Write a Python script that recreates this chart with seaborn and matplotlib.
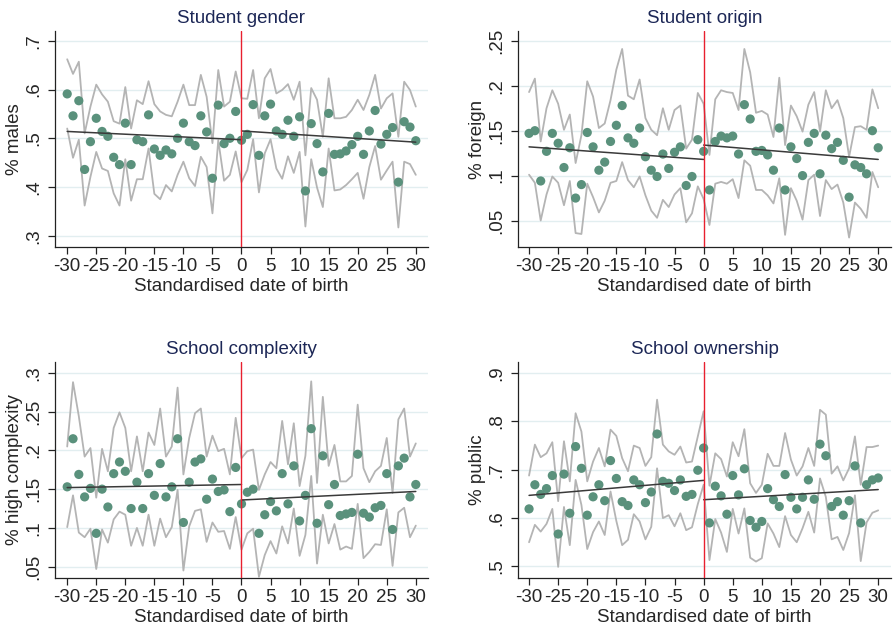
import matplotlib
matplotlib.use("Agg")
import matplotlib.pyplot as plt
import numpy as np
import pandas as pd
import seaborn as sns

sns.set_theme(style="white")
plt.rcParams["font.family"] = ["Liberation Sans", "DejaVu Sans"]

# ── data ──
days = list(range(-30, 31))

gender_mean = [0.591, 0.546, 0.577, 0.436, 0.493, 0.541, 0.514, 0.504, 0.461, 0.446,
               0.531, 0.446, 0.497, 0.493, 0.548, 0.478, 0.465, 0.476, 0.468, 0.500,
               0.531, 0.493, 0.485, 0.546, 0.513, 0.418, 0.568, 0.489, 0.500, 0.555,
               0.496, 0.508, 0.569, 0.465, 0.546, 0.570, 0.515, 0.508, 0.537, 0.504,
               0.544, 0.392, 0.530, 0.489, 0.431, 0.551, 0.467, 0.468, 0.474, 0.487,
               0.504, 0.467, 0.515, 0.557, 0.488, 0.508, 0.522, 0.410, 0.534, 0.523, 0.495]
gender_ci = [0.071, 0.086, 0.080, 0.074, 0.072, 0.069, 0.076, 0.071, 0.074, 0.084,
             0.074, 0.074, 0.081, 0.077, 0.069, 0.092, 0.090, 0.072, 0.077, 0.075,
             0.079, 0.075, 0.083, 0.084, 0.072, 0.072, 0.072, 0.076, 0.075, 0.082,
             0.086, 0.073, 0.071, 0.076, 0.077, 0.072, 0.077, 0.091, 0.074, 0.075,
             0.072, 0.073, 0.073, 0.090, 0.072, 0.072, 0.074, 0.073, 0.070, 0.071,
             0.075, 0.091, 0.074, 0.073, 0.073, 0.074, 0.070, 0.093, 0.082, 0.076, 0.070]
gender_fit = [0.514, 0.497, 0.515, 0.492]

origin_mean = [0.147, 0.150, 0.094, 0.127, 0.147, 0.136, 0.109, 0.131, 0.075, 0.090,
               0.148, 0.132, 0.106, 0.115, 0.138, 0.156, 0.178, 0.142, 0.136, 0.153,
               0.121, 0.106, 0.099, 0.124, 0.108, 0.126, 0.132, 0.089, 0.099, 0.140,
               0.127, 0.084, 0.138, 0.144, 0.142, 0.144, 0.124, 0.179, 0.163, 0.127,
               0.128, 0.123, 0.106, 0.153, 0.084, 0.132, 0.119, 0.100, 0.137, 0.147,
               0.102, 0.145, 0.130, 0.137, 0.117, 0.076, 0.112, 0.109, 0.102, 0.150, 0.131]
origin_ci = [0.046, 0.058, 0.044, 0.048, 0.048, 0.044, 0.042, 0.037, 0.039, 0.055,
             0.057, 0.056, 0.047, 0.043, 0.046, 0.062, 0.063, 0.047, 0.049, 0.054,
             0.043, 0.045, 0.046, 0.051, 0.043, 0.047, 0.046, 0.041, 0.041, 0.052,
             0.053, 0.039, 0.047, 0.051, 0.051, 0.048, 0.049, 0.062, 0.052, 0.043,
             0.044, 0.045, 0.037, 0.056, 0.050, 0.046, 0.047, 0.049, 0.042, 0.046,
             0.047, 0.050, 0.045, 0.047, 0.047, 0.045, 0.042, 0.046, 0.049, 0.046, 0.044]
origin_fit = [0.132, 0.118, 0.134, 0.118]

complexity_mean = [0.153, 0.215, 0.169, 0.140, 0.151, 0.093, 0.150, 0.127, 0.170, 0.185,
                   0.173, 0.125, 0.159, 0.125, 0.170, 0.142, 0.183, 0.140, 0.153, 0.215,
                   0.107, 0.159, 0.185, 0.189, 0.137, 0.163, 0.147, 0.149, 0.121, 0.178,
                   0.131, 0.146, 0.150, 0.093, 0.117, 0.134, 0.122, 0.170, 0.131, 0.180,
                   0.109, 0.142, 0.228, 0.106, 0.193, 0.130, 0.156, 0.116, 0.118, 0.120,
                   0.195, 0.119, 0.114, 0.126, 0.129, 0.170, 0.098, 0.180, 0.190, 0.140, 0.156]
complexity_ci = [0.052, 0.073, 0.075, 0.052, 0.052, 0.046, 0.052, 0.046, 0.059, 0.064,
                 0.056, 0.048, 0.059, 0.048, 0.053, 0.065, 0.071, 0.052, 0.052, 0.066,
                 0.062, 0.057, 0.063, 0.065, 0.055, 0.056, 0.052, 0.053, 0.048, 0.064,
                 0.059, 0.053, 0.051, 0.056, 0.052, 0.051, 0.055, 0.068, 0.051, 0.055,
                 0.045, 0.051, 0.061, 0.052, 0.076, 0.050, 0.051, 0.044, 0.042, 0.047,
                 0.064, 0.058, 0.045, 0.047, 0.051, 0.046, 0.047, 0.060, 0.064, 0.052, 0.053]
complexity_fit = [0.152, 0.156, 0.136, 0.147]

ownership_mean = [0.619, 0.669, 0.649, 0.661, 0.688, 0.567, 0.691, 0.610, 0.748, 0.703,
                  0.606, 0.644, 0.669, 0.636, 0.719, 0.682, 0.634, 0.626, 0.679, 0.669,
                  0.632, 0.654, 0.774, 0.676, 0.672, 0.657, 0.679, 0.645, 0.649, 0.699,
                  0.745, 0.590, 0.666, 0.646, 0.608, 0.688, 0.648, 0.702, 0.595, 0.581,
                  0.593, 0.661, 0.638, 0.624, 0.690, 0.643, 0.619, 0.643, 0.679, 0.639,
                  0.753, 0.729, 0.624, 0.634, 0.606, 0.636, 0.708, 0.590, 0.669, 0.679, 0.683]
ownership_ci = [0.069, 0.083, 0.077, 0.073, 0.069, 0.068, 0.068, 0.066, 0.069, 0.076,
                0.070, 0.073, 0.076, 0.071, 0.064, 0.088, 0.090, 0.071, 0.071, 0.076,
                0.076, 0.072, 0.071, 0.076, 0.066, 0.074, 0.069, 0.070, 0.068, 0.070,
                0.076, 0.077, 0.068, 0.076, 0.078, 0.069, 0.080, 0.082, 0.077, 0.071,
                0.076, 0.072, 0.070, 0.084, 0.086, 0.078, 0.069, 0.064, 0.066, 0.069,
                0.071, 0.085, 0.068, 0.073, 0.072, 0.067, 0.061, 0.079, 0.078, 0.068, 0.067]
ownership_fit = [0.647, 0.678, 0.638, 0.659]

fit_days = [-30, 0, 0, 30]
fit_side = ["left", "left", "right", "right"]

titles = ["Student gender", "Student origin", "School complexity", "School ownership"]
ylabels = ["% males", "% foreign", "% high complexity", "% public"]
yticks = [[0.3, 0.4, 0.5, 0.6, 0.7],
          [0.05, 0.1, 0.15, 0.2, 0.25],
          [0.05, 0.1, 0.15, 0.2, 0.25, 0.3],
          [0.5, 0.6, 0.7, 0.8, 0.9]]
ytick_labels = [[".3", ".4", ".5", ".6", ".7"],
                [".05", ".1", ".15", ".2", ".25"],
                [".05", ".1", ".15", ".2", ".25", ".3"],
                [".5", ".6", ".7", ".8", ".9"]]
xticks = list(range(-30, 31, 5))

# ── style ──
DOT = "#5a917c"
CI_GREY = "#b4b4b4"
FIT = "#3a3a3a"
CUTOFF = "#e8202f"
GRID = "#e2eef0"
TITLE = "#1c2756"

# panel boxes in pixels (left, top, right, bottom) and axis limits
W, H = 895, 632
boxes = [(55, 31, 428, 247), (518, 31, 891, 247), (55, 362, 428, 578), (518, 362, 891, 578)]
ylims = [(0.277, 0.72), (0.0205, 0.261), (0.0354, 0.314), (0.476, 0.923)]
xlims = [(-32.1, 32.1), (-31.9, 32.2), (-32.1, 32.1), (-31.9, 32.2)]

panels = [
    (gender_mean, gender_ci, gender_fit),
    (origin_mean, origin_ci, origin_fit),
    (complexity_mean, complexity_ci, complexity_fit),
    (ownership_mean, ownership_ci, ownership_fit),
]

fig = plt.figure(figsize=(W / 100, H / 100), dpi=100)

for i, (mean, ci, fit) in enumerate(panels):
    l, t, r, b = boxes[i]
    ax = fig.add_axes([l / W, 1 - b / H, (r - l) / W, (b - t) / H])

    df = pd.DataFrame({"day": days, "mean": mean, "ci": ci})
    df["upper"] = df["mean"] + df["ci"]
    df["lower"] = df["mean"] - df["ci"]
    fit_df = pd.DataFrame({"day": fit_days, "fit": fit, "side": fit_side})

    for yv in yticks[i]:
        ax.axhline(yv, color=GRID, lw=1.0, zorder=0)

    # confidence bounds, cell means, fitted lines either side of the cutoff
    sns.lineplot(data=df, x="day", y="upper", ax=ax, color=CI_GREY, lw=1.3, zorder=2)
    sns.lineplot(data=df, x="day", y="lower", ax=ax, color=CI_GREY, lw=1.3, zorder=2)
    sns.scatterplot(data=df, x="day", y="mean", ax=ax, color=DOT, s=44,
                    edgecolor="none", zorder=4)
    sns.lineplot(data=fit_df, x="day", y="fit", units="side", estimator=None, ax=ax,
                 color=FIT, lw=1.1, zorder=5)
    ax.axvline(0, color=CUTOFF, lw=1.0, zorder=6)

    ax.set_xlim(*xlims[i])
    ax.set_ylim(*ylims[i])
    ax.set_xticks(xticks)
    ax.set_xticklabels([str(x) for x in xticks])
    ax.set_yticks(yticks[i])
    ax.set_yticklabels(ytick_labels[i], rotation=90, va="center")

    ax.set_title(titles[i], color=TITLE, fontsize=13.5, pad=6)
    ax.set_xlabel("Standardised date of birth", fontsize=13.5, labelpad=2)
    ax.set_ylabel(ylabels[i], fontsize=13.5, labelpad=2)

    ax.tick_params(axis="both", direction="out", length=5, width=0.9, color="#222222",
                   labelsize=13.5, pad=3, bottom=True, left=True)
    ax.tick_params(axis="y", pad=4)
    for side in ["top", "right"]:
        ax.spines[side].set_visible(False)
    for side in ["left", "bottom"]:
        ax.spines[side].set_color("#222222")
        ax.spines[side].set_linewidth(0.9)
    ax.grid(False)

fig.savefig("out.png", dpi=100, facecolor="white")
